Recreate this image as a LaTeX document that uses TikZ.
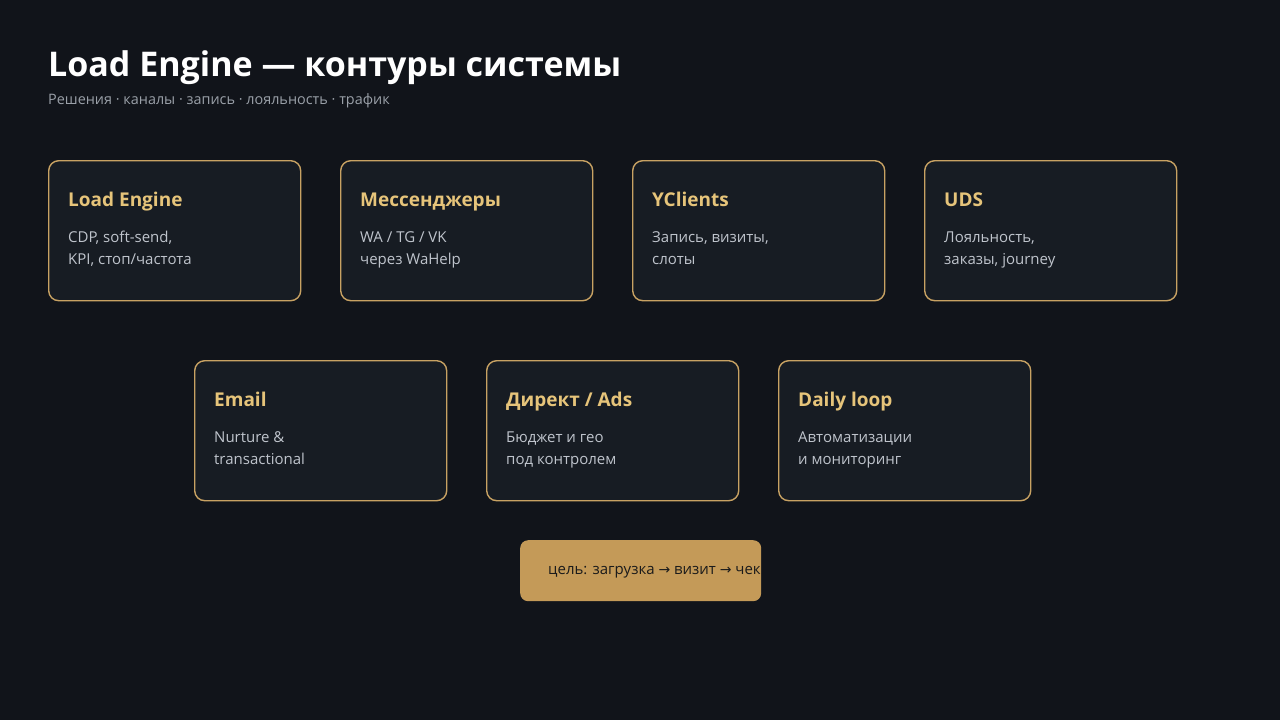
\documentclass[tikz,border=0pt]{standalone}
\usepackage{fontspec}
\setmainfont{Open Sans}
\newfontfamily\symfont{DejaVu Sans}
\definecolor{bg}{HTML}{11141A}
\definecolor{cardbg}{HTML}{171C23}
\definecolor{gold}{HTML}{C8A263}
\definecolor{goldtxt}{HTML}{E6C47A}
\definecolor{bodytxt}{HTML}{BFC4CC}
\definecolor{subtxt}{HTML}{9AA0A8}
\definecolor{pill}{HTML}{C49A58}
\definecolor{pilltxt}{HTML}{1B1B1B}
\newcommand\rarr{{\symfont\fontsize{14}{16}\selectfont →}}
\begin{document}
\begin{tikzpicture}[x=1pt,y=-1pt,
  card/.style={draw=gold, fill=cardbg, line width=1.4pt, rounded corners=10pt,
    minimum width=252pt, minimum height=140pt, anchor=north west, inner sep=0pt},
  ctitle/.style={anchor=base west, inner sep=0pt, text=goldtxt, font=\fontsize{19}{23}\selectfont\bfseries},
  cbody/.style={anchor=base west, inner sep=0pt, text=bodytxt, font=\fontsize{15}{18}\selectfont},
  pillbox/.style={fill=pill, rounded corners=8pt, minimum width=241pt, minimum height=61pt, anchor=north west, inner sep=0pt},
]
\fill[bg] (0,0) rectangle (1280,720);
\useasboundingbox (0,0) rectangle (1280,720);
\newcommand\mycard[6]{%
  \node[card] (#1) at (#2,#3) {};
  \node[ctitle] (#1t) at ([shift={(20,46)}]#1.north west) {#4};
  \node[cbody] (#1a) at ([shift={(20,82)}]#1.north west) {#5};
  \node[cbody] (#1b) at ([shift={(20,104)}]#1.north west) {#6};
}
\node[anchor=base west, inner sep=0pt, text=white, font=\fontsize{34}{40}\selectfont\bfseries] (title) at (48,76) {Load Engine — контуры системы};
\node[anchor=base west, inner sep=0pt, text=subtxt, font=\fontsize{14.4}{18}\selectfont] (sub) at (48,104) {Решения · каналы · запись · лояльность · трафик};
\mycard{le}{48}{160}{Load Engine}{CDP, soft-send,}{KPI, стоп/частота}
\mycard{ms}{340}{160}{Мессенджеры}{WA / TG / VK}{через WaHelp}
\mycard{yc}{632}{160}{YClients}{Запись, визиты,}{слоты}
\mycard{uds}{924}{160}{UDS}{Лояльность,}{заказы, journey}
\mycard{em}{194}{360}{Email}{Nurture \&}{transactional}
\mycard{ads}{486}{360}{Директ / Ads}{Бюджет и гео}{под контролем}
\mycard{dl}{778}{360}{Daily loop}{Автоматизации}{и мониторинг}
\node[pillbox] (goal) at (520,540) {};
\node[anchor=base west, inner sep=0pt, text=pilltxt, font=\fontsize{15}{18}\selectfont] (goalt) at (548,574) {цель: загрузка \rarr{} визит \rarr{} чек};
\end{tikzpicture}
\end{document}
